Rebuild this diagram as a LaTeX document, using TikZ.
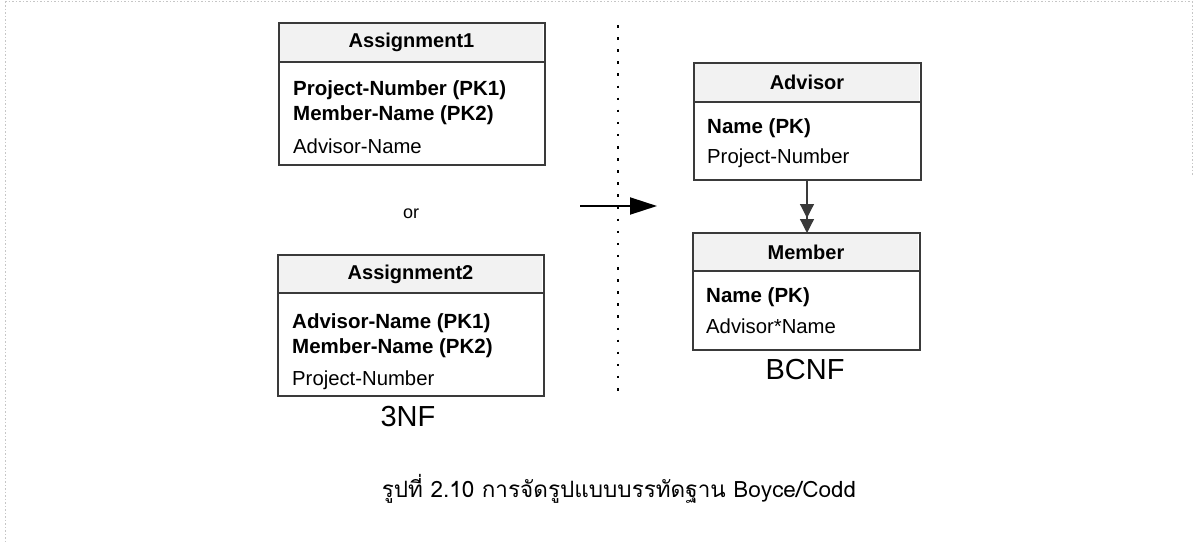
\documentclass[tikz,border=0pt]{standalone}
\usepackage{fontspec}
\setmainfont{Liberation Sans}
\newfontfamily\thaifont[Script=Thai]{Loma}
\usetikzlibrary{arrows.meta}
\definecolor{edge}{HTML}{3A3A3A}
\definecolor{headfill}{HTML}{F2F2F2}
\tikzset{
  tablebox/.style={draw=edge, line width=1.4pt, fill=white, inner sep=0pt},
  headrule/.style={draw=edge, line width=1.2pt},
  titletext/.style={font=\fontsize{20}{24}\selectfont\bfseries, anchor=center, inner sep=0pt},
  keytext/.style={font=\fontsize{20.5}{24}\selectfont\bfseries, anchor=base west, inner sep=0pt},
  fieldtext/.style={font=\fontsize{20.3}{24}\selectfont, anchor=base west, inner sep=0pt},
  formlabel/.style={font=\fontsize{29}{34}\selectfont, anchor=center, inner sep=0pt},
  divider/.style={draw=black, line width=2pt, dash pattern=on 2.5pt off 9.6pt},
  frameline/.style={draw=gray!45, line width=1pt, dash pattern=on 1.5pt off 2pt},
}
% draws one table: #1 name, #2 left, #3 top, #4 right, #5 bottom, #6 header rule y, #7 title
\newcommand{\relbox}[7]{%
  \node[tablebox, minimum width={(#4-#2)*1pt}, minimum height={(#5-#3)*1pt}, anchor=north west] (#1) at (#2,#3) {};
  \fill[headfill] ([shift={(0.8pt,-0.8pt)}]#1.north west) rectangle (#4-0.8,#6);
  \draw[headrule] (#2,#6) -- (#4,#6);
  \draw[edge, line width=1.4pt] (#1.north west) rectangle (#1.south east);
  \node[titletext] (#1-title) at ({(#2+#4)/2},{(#3+#6)/2}) {#7};
}
\begin{document}
\begin{tikzpicture}[x=1pt, y=-1pt]
\useasboundingbox (0,0) rectangle (1195,544);

% faint outer frame
\draw[frameline] (5,1.5) -- (1192,1.5);
\draw[frameline] (5,1.5) -- (5,544);
\draw[frameline] (1192,1.5) -- (1192,175);

% left side: third normal form
\relbox{asg1}{279}{23}{544}{164}{62}{Assignment1}
\node[keytext] (asg1-k1) at (293,95) {Project-Number (PK1)};
\node[keytext] (asg1-k2) at (293,120) {Member-Name (PK2)};
\node[fieldtext] (asg1-f1) at (293,153) {Advisor-Name};

\node[font=\fontsize{18}{22}\selectfont, inner sep=0pt] (or) at (411,214) {or};

\relbox{asg2}{278}{255}{543}{395}{293}{Assignment2}
\node[keytext] (asg2-k1) at (292,328) {Advisor-Name (PK1)};
\node[keytext] (asg2-k2) at (292,353) {Member-Name (PK2)};
\node[fieldtext] (asg2-f1) at (292,385) {Project-Number};

\node[formlabel] (nf3) at (408,417) {3NF};

% separator and transition arrow
\coordinate (divtop) at (618,25);
\coordinate (divbot) at (618,392);
\draw[divider] (divtop) -- (divbot);
\coordinate (arrfrom) at (580,206);
\coordinate (arrto) at (657,206);
\draw[line width=2pt, -{Triangle[length=27pt,width=17pt]}] (arrfrom) -- (arrto);

% right side: Boyce/Codd normal form
\relbox{adv}{694}{63}{920}{179}{102}{Advisor}
\node[keytext] (adv-k1) at (707,133) {Name (PK)};
\node[fieldtext] (adv-f1) at (707,163) {Project-Number};

\relbox{mem}{693}{233}{919}{349}{271}{Member}
\node[keytext] (mem-k1) at (706,302) {Name (PK)};
\node[fieldtext] (mem-f1) at (706,333) {Advisor*Name};

\draw[edge, line width=1.2pt, -{Triangle[length=14pt,width=14pt,sep=1pt]Triangle[length=14pt,width=14pt]}]
  (adv.south -| 807,0) -- (mem.north -| 807,0);

\node[formlabel] (bcnf) at (805,370) {BCNF};

% caption
\node[font=\fontsize{22.5}{28}\selectfont\thaifont, inner sep=0pt] (caption) at (619,489)
  {รูปที่ 2.10 การจัดรูปแบบบรรทัดฐาน Boyce/Codd};
\end{tikzpicture}
\end{document}
